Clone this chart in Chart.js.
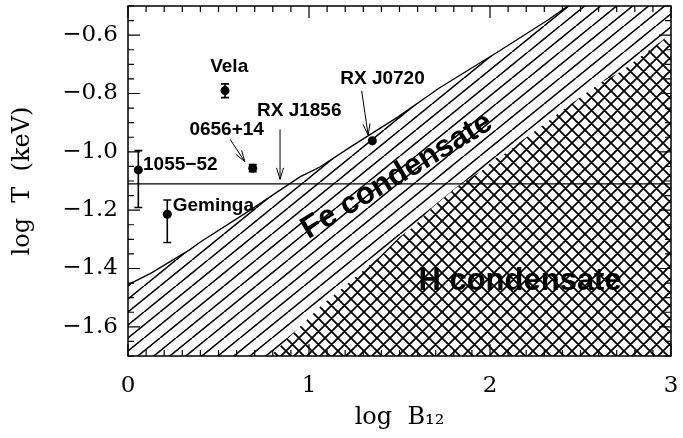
<!DOCTYPE html>
<html>
<head>
<meta charset="utf-8">
<script src="https://cdn.jsdelivr.net/npm/chart.js@4.4.1/dist/chart.umd.min.js"></script>
<style>html,body{margin:0;padding:0;background:#fff;}canvas{display:block;}</style>
</head>
<body>
<canvas id="c" width="683" height="438"></canvas>
<script>
// ---- data ----
const xTicks = [0, 1, 2, 3];
const yTicks = [-1.6, -1.4, -1.2, -1.0, -0.8, -0.6];

// upper boundary of Fe condensate region
const feUpperX = [0, 0.13, 0.34, 0.40, 0.66, 0.95, 1.06, 1.23, 1.49, 1.72, 2.06, 2.32, 2.43];
const feUpperY = [-1.456, -1.415, -1.336, -1.309, -1.206, -1.086, -1.052, -0.983, -0.881, -0.781, -0.651, -0.548, -0.5];

// upper boundary of H condensate region
const hUpperX = [0.79, 0.82, 1.06, 1.39, 1.50, 1.575, 1.685, 1.82, 1.93, 1.96, 2.04, 2.09, 2.18, 2.28, 2.40, 2.50, 2.61, 2.72, 2.83, 2.94, 3.0];
const hUpperY = [-1.70, -1.679, -1.532, -1.36, -1.292, -1.258, -1.189, -1.12, -1.073, -1.062, -1.018, -1.004, -0.959, -0.915, -0.857, -0.812, -0.764, -0.726, -0.675, -0.623, -0.593];

const hLineY = -1.11;

// observed neutron stars
const starNames = ['1055−52', 'Vela', '0656+14', 'Geminga', 'RX J0720'];
const starX   = [0.057, 0.536, 0.689, 0.217, 1.35];
const starY   = [-1.062, -0.790, -1.056, -1.214, -0.962];
const starErrHi = [-0.996, -0.767, -1.044, -1.165, null];
const starErrLo = [-1.191, -0.814, -1.068, -1.311, null];

// labels (text, x, y, align)
const labelText  = ['Vela', '0656+14', '1055−52', 'Geminga', 'RX J1856', 'RX J0720'];
const labelX     = [0.559, 0.545, 0.083, 0.247, 0.946, 1.406];
const labelY     = [-0.710, -0.925, -1.045, -1.186, -0.859, -0.748];
const labelAlign = ['center', 'center', 'left', 'left', 'center', 'center'];

// arrows: from (x0,y0) to (x1,y1)
const arrowX0 = [0.564, 0.840, 1.291];
const arrowY0 = [-0.957, -0.923, -0.791];
const arrowX1 = [0.646, 0.840, 1.327];
const arrowY1 = [-1.034, -1.094, -0.943];

// region labels
const regionText = ['Fe condensate', 'H condensate'];
const regionX = [1.486, 2.166];
const regionY = [-1.083, -1.443];
const regionRot = [-31, 0];

// ---- patterns ----
function hatchPattern() {
  const W = 32, H = 26;
  const c = document.createElement('canvas'); c.width = W; c.height = H;
  const g = c.getContext('2d');
  g.strokeStyle = '#000'; g.lineWidth = 1.5;
  g.beginPath();
  for (let k = -3; k <= 3; k++) { const c0 = k * W / 2; g.moveTo(c0, H); g.lineTo(c0 + W, 0); }
  g.stroke();
  return g.createPattern(c, 'repeat');
}
function crossPattern() {
  const S = 13;
  const c = document.createElement('canvas'); c.width = S; c.height = S;
  const g = c.getContext('2d');
  g.strokeStyle = '#000'; g.lineWidth = 1.8;
  g.beginPath();
  for (let k = -1; k <= 1; k++) {
    g.moveTo(k * S, 0); g.lineTo(k * S + S, S);
    g.moveTo(k * S, S); g.lineTo(k * S + S, 0);
  }
  g.stroke();
  return g.createPattern(c, 'repeat');
}

const pts = (xs, ys) => xs.map((x, i) => ({x: x, y: ys[i]}));
const fePoly = pts(feUpperX, feUpperY)
  .concat([{x: 3, y: -0.5}])
  .concat(pts(hUpperX, hUpperY).reverse())
  .concat([{x: 0, y: -1.7}, {x: feUpperX[0], y: feUpperY[0]}]);
const hPoly = pts(hUpperX, hUpperY).concat([{x: 3, y: -1.7}, {x: hUpperX[0], y: hUpperY[0]}]);

const fmt = v => (v < 0 ? '−' : '') + Math.abs(v).toFixed(1);

const decor = {
  id: 'decor',
  afterDatasetsDraw(chart) {
    const ctx = chart.ctx, xs = chart.scales.x, ys = chart.scales.y, a = chart.chartArea;
    const px = v => xs.getPixelForValue(v), py = v => ys.getPixelForValue(v);
    ctx.save();
    // region labels
    ctx.fillStyle = '#000';
    ctx.font = 'bold 31px "Liberation Sans", Arial, sans-serif';
    ctx.textAlign = 'center'; ctx.textBaseline = 'middle';
    regionText.forEach((t, i) => {
      ctx.save();
      ctx.translate(px(regionX[i]), py(regionY[i]));
      ctx.rotate(regionRot[i] * Math.PI / 180);
      ctx.fillText(t, 0, 0);
      ctx.restore();
    });
    // error bars
    ctx.strokeStyle = '#000'; ctx.lineWidth = 1.6;
    starX.forEach((x, i) => {
      if (starErrHi[i] === null) return;
      const X = px(x), Y1 = py(starErrHi[i]), Y2 = py(starErrLo[i]);
      ctx.beginPath();
      ctx.moveTo(X, Y1); ctx.lineTo(X, Y2);
      ctx.moveTo(X - 4, Y1); ctx.lineTo(X + 4, Y1);
      ctx.moveTo(X - 4, Y2); ctx.lineTo(X + 4, Y2);
      ctx.stroke();
    });
    // arrows
    ctx.lineWidth = 1;
    arrowX0.forEach((x0, i) => {
      const X0 = px(x0), Y0 = py(arrowY0[i]), X1 = px(arrowX1[i]), Y1 = py(arrowY1[i]);
      const ang = Math.atan2(Y1 - Y0, X1 - X0), L = 12, h = 0.3;
      ctx.beginPath();
      ctx.moveTo(X0, Y0); ctx.lineTo(X1, Y1);
      ctx.moveTo(X1 - L * Math.cos(ang - h), Y1 - L * Math.sin(ang - h));
      ctx.lineTo(X1, Y1);
      ctx.lineTo(X1 - L * Math.cos(ang + h), Y1 - L * Math.sin(ang + h));
      ctx.stroke();
    });
    // point labels
    ctx.font = 'bold 19px "Liberation Sans", Arial, sans-serif';
    ctx.textBaseline = 'middle';
    labelText.forEach((t, i) => {
      ctx.textAlign = labelAlign[i];
      ctx.fillText(t, px(labelX[i]), py(labelY[i]));
    });
    // frame
    ctx.lineWidth = 1.5;
    ctx.strokeRect(a.left, a.top, a.right - a.left, a.bottom - a.top);
    // inner ticks
    ctx.lineWidth = 1.2;
    ctx.beginPath();
    for (let k = 0; k <= 30; k++) {
      const v = k / 10, X = px(v), len = (k % 10 === 0) ? 12 : 6;
      ctx.moveTo(X, a.bottom); ctx.lineTo(X, a.bottom - len);
      ctx.moveTo(X, a.top); ctx.lineTo(X, a.top + len);
    }
    for (let k = -34; k <= -10; k++) {
      const v = k / 20, Y = py(v), len = (k % 4 === 0) ? 12 : 6;
      ctx.moveTo(a.left, Y); ctx.lineTo(a.left + len, Y);
      ctx.moveTo(a.right, Y); ctx.lineTo(a.right - len, Y);
    }
    ctx.stroke();
    ctx.restore();
  }
};

const tickFont = {family: '"DejaVu Serif", serif', size: 23};
new Chart(document.getElementById('c'), {
  type: 'scatter',
  data: {
    datasets: [
      {data: fePoly, showLine: true, fill: 'shape', backgroundColor: hatchPattern(), borderWidth: 0, pointRadius: 0, tension: 0},
      {data: hPoly, showLine: true, fill: 'shape', backgroundColor: crossPattern(), borderWidth: 0, pointRadius: 0, tension: 0},
      {data: pts(feUpperX, feUpperY), showLine: true, fill: false, borderColor: '#000', borderWidth: 1.3, pointRadius: 0, tension: 0},
      {data: [{x: 0, y: hLineY}, {x: 3, y: hLineY}], showLine: true, fill: false, borderColor: '#000', borderWidth: 1.3, pointRadius: 0},
      {data: pts(starX, starY), showLine: false, pointRadius: 4.5, pointBackgroundColor: '#000', pointBorderColor: '#000', pointBorderWidth: 0}
    ]
  },
  options: {
    responsive: false, animation: false, devicePixelRatio: 1,
    layout: {padding: {left: 0, right: 12, top: 6, bottom: 0}},
    plugins: {legend: {display: false}, tooltip: {enabled: false}},
    scales: {
      x: {
        type: 'linear', min: 0, max: 3,
        grid: {display: false, drawTicks: false}, border: {display: false},
        afterBuildTicks: s => { s.ticks = xTicks.map(v => ({value: v})); },
        afterFit: s => { s.height = 82; s.paddingLeft = 0; s.paddingRight = 0; },
        ticks: {font: tickFont, color: '#000', padding: 16, maxRotation: 0, autoSkip: false, callback: v => String(v)},
        title: {display: true, text: 'log  B₁₂', font: {family: '"DejaVu Serif", serif', size: 24}, color: '#000', padding: {top: 0, bottom: 6}}
      },
      y: {
        type: 'linear', min: -1.7, max: -0.5,
        grid: {display: false, drawTicks: false}, border: {display: false},
        afterBuildTicks: s => { s.ticks = yTicks.map(v => ({value: v})); },
        afterFit: s => { s.width = 128; s.paddingTop = 0; s.paddingBottom = 0; },
        ticks: {font: tickFont, color: '#000', padding: 10, autoSkip: false, callback: v => fmt(v)},
        title: {display: true, text: 'log  T  (keV)', font: {family: '"DejaVu Serif", serif', size: 24}, color: '#000', padding: {top: 8, bottom: 0}}
      }
    }
  },
  plugins: [decor]
});
</script>
</body>
</html>
